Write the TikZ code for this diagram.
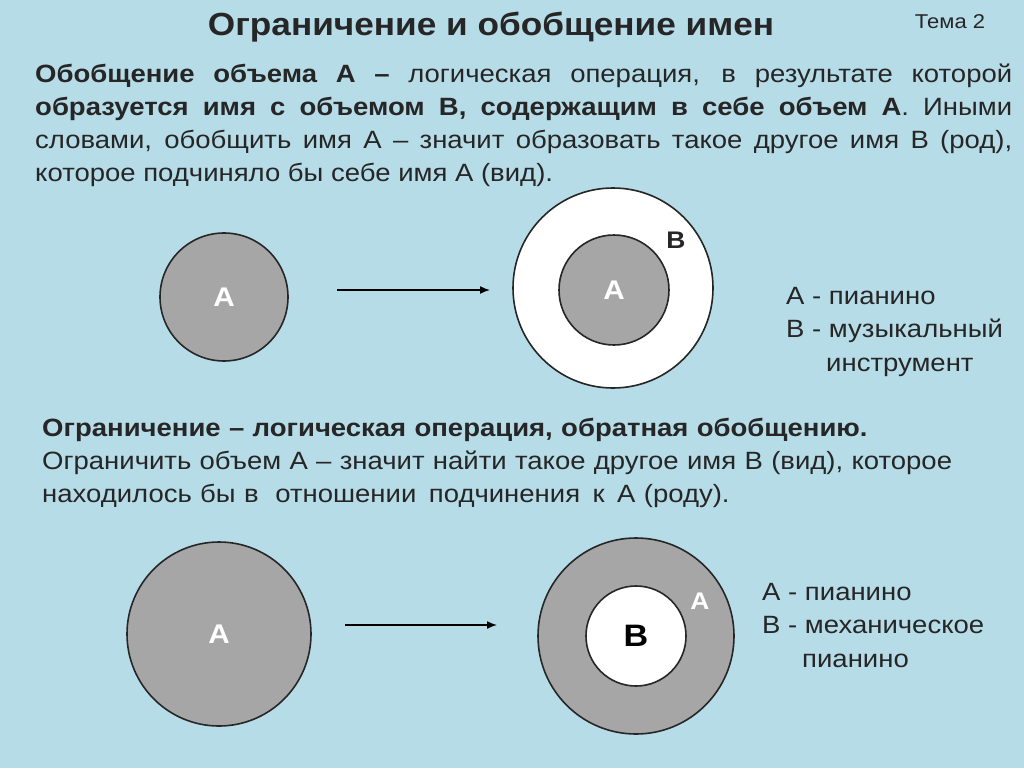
\documentclass[tikz,border=0pt]{standalone}
\usepackage{fontspec}
\usetikzlibrary{arrows.meta}
\setmainfont{Liberation Sans}[FakeStretch=1.1]
\definecolor{bg}{RGB}{182,220,232}
\definecolor{cg}{RGB}{166,166,166}
\definecolor{tx}{RGB}{38,38,38}
\begin{document}
\begin{tikzpicture}[x=1pt,y=-1pt,
  circ/.style={circle,draw=black!85,line width=1.6pt,inner sep=0pt},
  lbl/.style={text=white,font=\bfseries\fontsize{27}{30}\selectfont},
  arr/.style={-{Latex[length=10pt,width=8pt]},line width=1.5pt},
  body/.style={anchor=north west,inner sep=0pt,text=tx,font=\fontsize{25}{32.8}\selectfont,align=justify}]
\fill[bg] (0,0) rectangle (1024,768);
\useasboundingbox (0,0) rectangle (1024,768);
\node[text=tx,font=\bfseries\fontsize{32}{36}\selectfont] (title) at (491,27) {Ограничение и обобщение имен};
\node[text=tx,font=\fontsize{20}{22}\selectfont] (tema) at (950,22) {Тема 2};
\node[body,text width=977pt] (p1) at (35,64) {\textbf{Обобщение объема А –} логическая операция, в результате которой \textbf{образуется имя с объемом В, содержащим в себе объем А}. Иными словами, обобщить имя А – значит образовать такое другое имя В (род), которое подчиняло бы себе имя А (вид).};
% top diagram
\node[circ,fill=cg,minimum size=128pt] (a1) at (224,297) {};
\node[lbl] at (a1) {А};
\node[circ,fill=white,minimum size=200pt] (b2) at (613,288) {};
\node[circ,fill=cg,minimum size=110pt] (a2) at (614,290) {};
\node[lbl] at (a2) {А};
\node[text=tx,font=\bfseries\fontsize{24}{26}\selectfont] (lb2) at (676,240) {В};
\coordinate (s1) at (337,290); \coordinate (e1) at (490,290);
\draw[arr] (s1) -- (e1);
\node[anchor=north west,inner sep=0pt,text=tx,font=\fontsize{25}{33.5}\selectfont,align=left] (leg1) at (786,287) {А - пианино\\В - музыкальный\\\hspace*{40pt}инструмент};
% paragraph 2
\node[body,text width=960pt,align=left] (p2) at (42,418) {\textbf{Ограничение – логическая операция, обратная обобщению.}\\Ограничить объем А – значит найти такое другое имя В (вид), которое\\находилось бы в\ \ отношении\, подчинения\, к\, А (роду).};
% bottom diagram
\node[circ,fill=cg,minimum size=184pt] (a3) at (219,634) {};
\node[lbl] at (a3) {А};
\node[circ,fill=cg,minimum size=196pt] (a4) at (636,636) {};
\node[circ,fill=white,minimum size=100pt] (b4) at (636,636) {};
\node[text=black,font=\bfseries\fontsize{31}{34}\selectfont] at (b4) {В};
\node[text=white,font=\bfseries\fontsize{24}{26}\selectfont] (la4) at (700,601) {А};
\coordinate (s2) at (345,625); \coordinate (e2) at (497,625);
\draw[arr] (s2) -- (e2);
\node[anchor=north west,inner sep=0pt,text=tx,font=\fontsize{25}{33.5}\selectfont,align=left] (leg2) at (762,583) {А - пианино\\В - механическое\\\hspace*{40pt}пианино};
\end{tikzpicture}
\end{document}
